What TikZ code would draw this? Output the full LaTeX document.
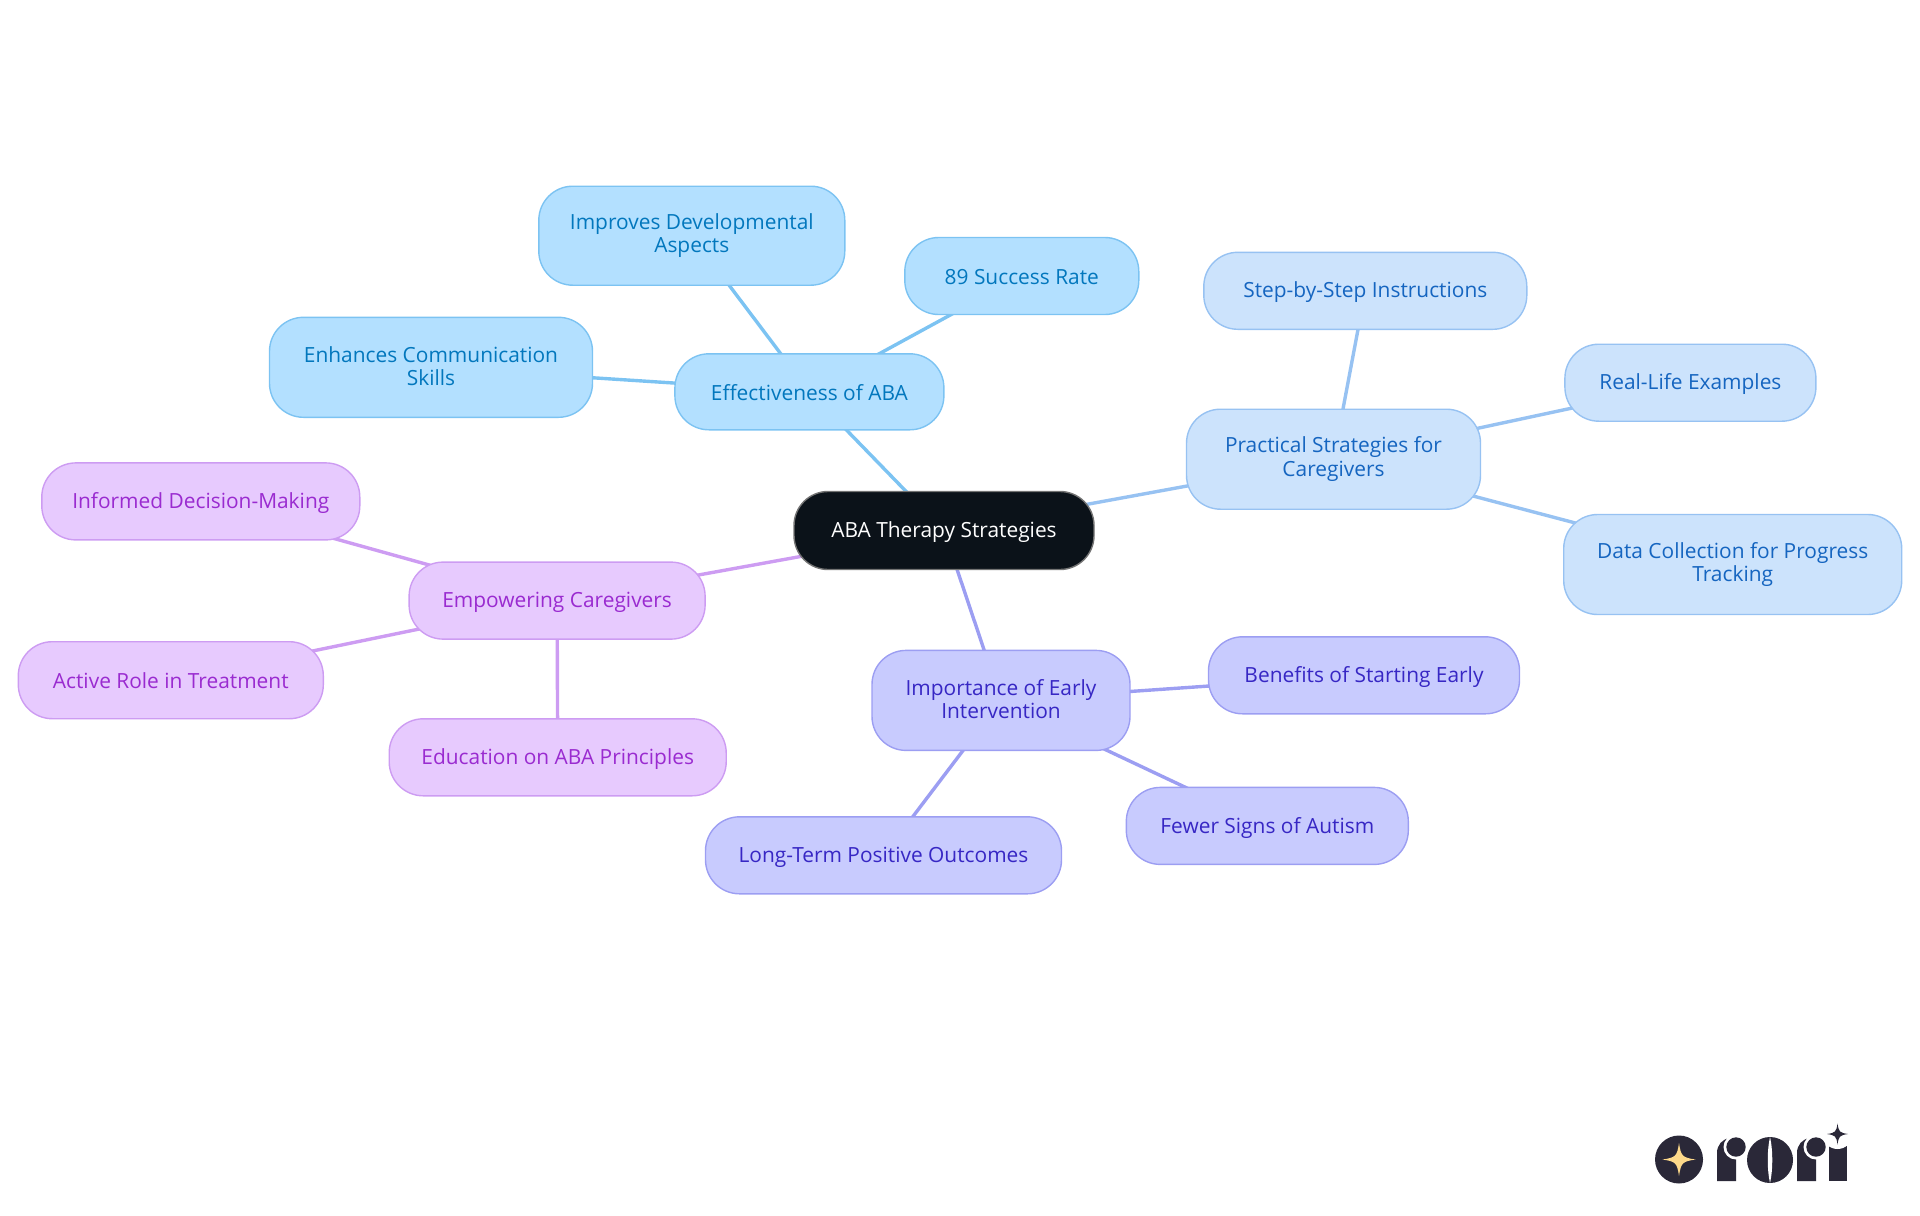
\documentclass[tikz,border=0pt]{standalone}
\usepackage{fontspec}
\setmainfont{Open Sans}
\usetikzlibrary{backgrounds}
\definecolor{rootc}{HTML}{0B1219}
\definecolor{skyf}{HTML}{B3E0FF}
\definecolor{skyd}{HTML}{7CC3F2}
\definecolor{skyt}{HTML}{0277BD}
\definecolor{palef}{HTML}{CCE3FC}
\definecolor{paled}{HTML}{97C2F2}
\definecolor{palet}{HTML}{1565C0}
\definecolor{indf}{HTML}{C8CBFE}
\definecolor{indd}{HTML}{9C9EF2}
\definecolor{indt}{HTML}{3727C4}
\definecolor{purf}{HTML}{E7CAFE}
\definecolor{purd}{HTML}{CD9CF2}
\definecolor{purt}{HTML}{9A2BD0}
\definecolor{logoc}{HTML}{2A2838}
\definecolor{starc}{HTML}{FDD98A}
\newcommand{\bstrut}{\rule[-1.5pt]{0pt}{11.2pt}}
\tikzset{
  box/.style={rounded corners=17pt,line width=.7pt,align=center,inner sep=0pt,
              font=\fontsize{10.45pt}{11.7pt}\selectfont,
              execute at begin node=\bstrut,execute at end node=\bstrut},
  sz/.style 2 args={minimum width=#1*.5pt,minimum height=#2*.5pt},
  rootbox/.style={box,fill=rootc,draw=black!55,text=white},
  sky/.style={box,fill=skyf,draw=skyd,text=skyt},
  pale/.style={box,fill=palef,draw=paled,text=palet},
  ind/.style={box,fill=indf,draw=indd,text=indt},
  pur/.style={box,fill=purf,draw=purd,text=purt},
  lnk/.style={line width=1.7pt},
  logo/.style={fill=logoc,draw=none},
}
\newcommand{\sparkle}[3]{% centre x, y, reach
  (#1-#3,#2) .. controls (#1-.2*#3,#2-.12*#3) and (#1-.12*#3,#2-.2*#3) .. (#1,#2-#3)
  .. controls (#1+.12*#3,#2-.2*#3) and (#1+.2*#3,#2-.12*#3) .. (#1+#3,#2)
  .. controls (#1+.2*#3,#2+.12*#3) and (#1+.12*#3,#2+.2*#3) .. (#1,#2+#3)
  .. controls (#1-.12*#3,#2+.2*#3) and (#1-.2*#3,#2+.12*#3) .. (#1-#3,#2) -- cycle}
\begin{document}
\begin{tikzpicture}[x=.5pt,y=-.5pt]
  \useasboundingbox (0,0) rectangle (1920,1215);
  % centre
  \node[rootbox,sz={300}{78}] (root) at (944,530.5) {ABA Therapy Strategies};
  % effectiveness
  \node[sky,sz={269}{76}] (eff) at (809.4,391.8) {Effectiveness of ABA};
  \node[sky,sz={306}{99}] (impr) at (691.8,235.7) {Improves Developmental\\Aspects};
  \node[sky,sz={234}{77}] (rate) at (1021.8,276) {89 Success Rate};
  \node[sky,sz={323}{100}] (comm) at (431,367.3) {Enhances Communication\\Skills};
  % strategies
  \node[pale,sz={294}{100}] (prac) at (1333.5,459.2) {Practical Strategies for\\Caregivers};
  \node[pale,sz={323}{77}] (steps) at (1365.3,290.8) {Step-by-Step Instructions};
  \node[pale,sz={251}{77}] (real) at (1690.4,382.7) {Real-Life Examples};
  \node[pale,sz={338}{100}] (data) at (1732.7,564.5) {Data Collection for Progress\\Tracking};
  % early intervention
  \node[ind,sz={258}{100}] (early) at (1001,700.4) {Importance of Early\\Intervention};
  \node[ind,sz={311}{77}] (start) at (1364,675.3) {Benefits of Starting Early};
  \node[ind,sz={282}{77}] (fewer) at (1267.3,825.9) {Fewer Signs of Autism};
  \node[ind,sz={356}{77}] (long) at (883.5,855.3) {Long-Term Positive Outcomes};
  % caregivers
  \node[pur,sz={296}{77}] (emp) at (557.1,600.6) {Empowering Caregivers};
  \node[pur,sz={318}{77}] (inf) at (200.8,501.4) {Informed Decision-Making};
  \node[pur,sz={305}{77}] (act) at (170.8,680.2) {Active Role in Treatment};
  \node[pur,sz={337}{77}] (edu) at (557.7,757.3) {Education on ABA Principles};
  % links go under the boxes
  \begin{scope}[on background layer]
    \foreach \a/\b in {root/eff,eff/impr,eff/rate,eff/comm}
      \draw[lnk,skyd] (\a.center) -- (\b.center);
    \foreach \a/\b in {root/prac,prac/steps,prac/real,prac/data}
      \draw[lnk,paled] (\a.center) -- (\b.center);
    \foreach \a/\b in {root/early,early/start,early/fewer,early/long}
      \draw[lnk,indd] (\a.center) -- (\b.center);
    \foreach \a/\b in {root/emp,emp/inf,emp/act,emp/edu}
      \draw[lnk,purd] (\a.center) -- (\b.center);
  \end{scope}
  % logo
  \fill[logo] (1679,1159.5) circle (24);
  \fill[starc] \sparkle{1679}{1159.5}{16.5};
  \fill[logo] (1717,1181) -- (1717,1153) .. controls (1717,1145) and (1722,1139) .. (1730,1138) -- (1736,1138) -- (1736,1181) -- cycle;
  \fill[white] (1736,1147) circle (12.5);
  \fill[logo] (1736,1147) circle (9.7);
  \fill[logo] (1770,1160) circle (23);
  \fill[white] (1770,1137) .. controls (1767,1150) and (1767,1170) .. (1770,1183) .. controls (1773,1170) and (1773,1150) .. (1770,1137) -- cycle;
  \fill[logo] (1797,1181) -- (1797,1153) .. controls (1797,1145) and (1802,1139) .. (1810,1138) -- (1816,1138) -- (1816,1181) -- cycle;
  \fill[white] (1816,1147) circle (12.5);
  \fill[logo] (1816,1147) circle (9.7);
  \fill[logo] (1829,1145) rectangle (1847,1181);
  \fill[white] (1837.5,1134) circle (15);
  \fill[logo] \sparkle{1837.5}{1134}{10.5};
\end{tikzpicture}
\end{document}
